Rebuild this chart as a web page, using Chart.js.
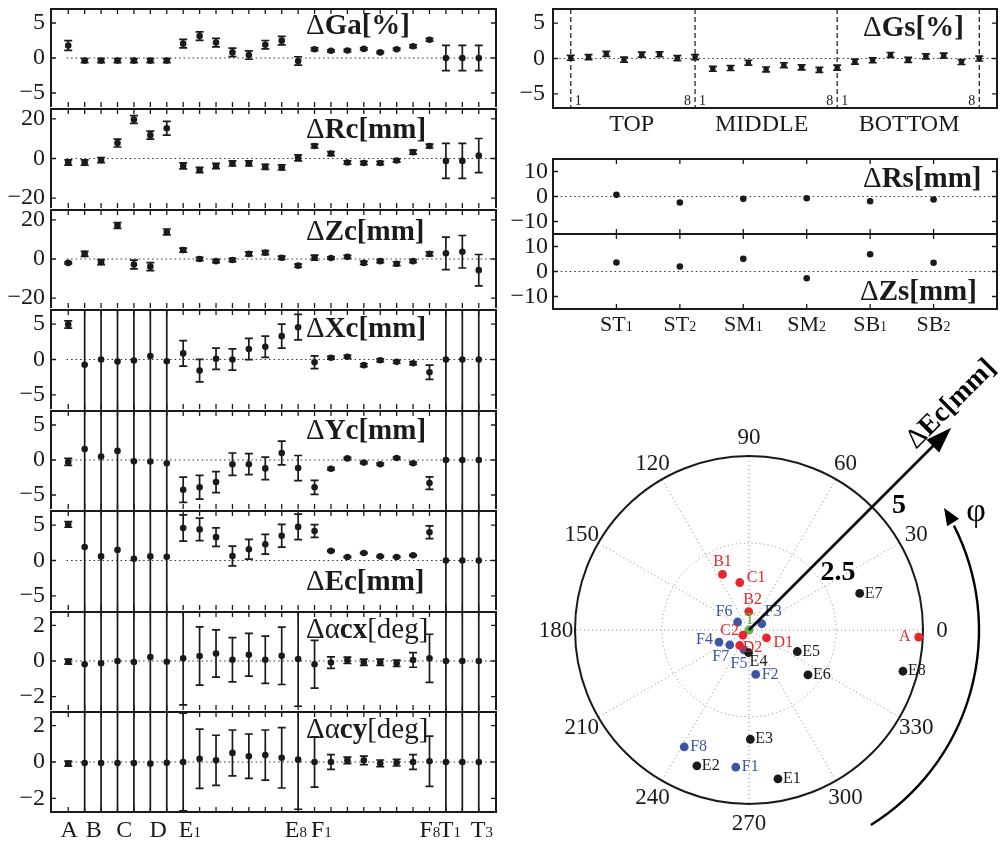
<!DOCTYPE html>
<html>
<head>
<meta charset="utf-8">
<script src="https://cdn.jsdelivr.net/npm/chart.js@4.4.0/dist/chart.umd.min.js"></script>
<style>
  html, body { margin: 0; padding: 0; background: #fff; }
  #wrap { position: relative; width: 1001px; height: 844px; overflow: hidden; background: #fff; }
  canvas { position: absolute; }
</style>
</head>
<body>
<div id="wrap"></div>
<script>
const SERIF = '"Liberation Serif", "Times New Roman", serif';
const INK = "#1a1a1a";

// ---- left column: 26 modules ----
const cats = ["A", "B1", "B2", "C1", "C2", "D1", "D2",
  "E1", "E2", "E3", "E4", "E5", "E6", "E7", "E8",
  "F1", "F2", "F3", "F4", "F5", "F6", "F7", "F8", "T1", "T2", "T3"];
const bottomLabels = ["A", "B", "C", "D", "E1", "E8", "F1", "F8", "T1", "T3"];
const bottomLabelPos = [1.06, 2.56, 4.41, 6.48, 8.41, 14.86, 16.42, 23.02, 24.24, 26.19];

const gaVals = [1.78, -0.37, -0.37, -0.37, -0.37, -0.37, -0.37, 2.05, 3.13, 2.2, 0.8, 0.42, 1.9, 2.48, -0.42, 1.26, 1.03, 1.07, 1.3, 0.8, 1.26, 1.68, 2.6, 0, 0, 0];
const gaErr = [0.7, 0.3, 0.3, 0.3, 0.3, 0.3, 0.3, 0.6, 0.6, 0.6, 0.6, 0.6, 0.6, 0.6, 0.6, 0.2, 0.15, 0.15, 0.15, 0.15, 0.15, 0.2, 0.2, 1.8, 1.8, 1.8];

const rcVals = [-2, -2, -0.8, 7.8, 19.7, 11.8, 15.3, -3.7, -5.8, -3.8, -2.5, -2.5, -4.2, -4.5, 0.3, 6.3, 2.5, -2, -2.3, -2.3, -1, 3.2, 6.3, -1.2, -1.2, 1.5];
const rcErr = [1.3, 1.3, 1.3, 2, 2, 2, 3.5, 1.5, 1.3, 1.3, 1.3, 1.3, 1.3, 1.3, 1.5, 1, 1, 0.8, 0.8, 0.8, 0.8, 1, 1, 8.8, 8.8, 8.6];

const zcVals = [-2, 2.6, -1.6, 17.1, -2.8, -3.9, 13.8, 4.55, 0, -1.1, -0.5, 2.6, 3.25, 0.65, -3.4, 0.65, 0.5, 1.1, -2, -1.1, -2.4, -1.1, 2.6, 2.9, 3.7, -5.7];
const zcErr = [0.5, 1.3, 1.3, 1.5, 2.2, 2, 1.5, 1, 0.8, 0.8, 0.8, 1, 1, 0.8, 0.8, 1.3, 0.6, 0.8, 0.8, 0.8, 1, 0.8, 1, 8.3, 8.3, 8];

const xcVals = [4.95, -0.75, 0, -0.3, -0.15, 0.5, -0.25, 0.86, -1.57, 0.1, 0, 1.48, 1.8, 3.3, 4.57, -0.38, 0.24, 0.38, -0.8, -0.1, -0.33, -0.52, -1.8, 0, 0, 0];
const xcErr = [0.5, 99, 99, 99, 99, 99, 99, 1.8, 1.6, 1.5, 1.5, 1.5, 1.5, 1.7, 1.8, 0.9, 0.2, 0.2, 0.2, 0.2, 0.2, 0.2, 1, 99, 99, 99];

const ycVals = [-0.28, 1.57, 0.5, 1.3, -0.19, -0.23, -0.46, -4.26, -3.9, -3.15, -0.6, -0.6, -1.2, 1.0, -1.16, -3.9, -1.25, 0.23, -0.37, -0.6, 0.28, -0.46, -3.3, 0, 0, 0];
const ycErr = [0.5, 99, 99, 99, 99, 99, 99, 1.8, 1.7, 1.5, 1.6, 1.5, 1.6, 1.7, 1.8, 1.0, 0.15, 0.15, 0.15, 0.15, 0.15, 0.15, 0.9, 99, 99, 99];

const ecVals = [5.1, 1.9, 0.58, 1.5, 0.24, 0.58, 0.53, 4.6, 4.4, 3.3, 0.63, 1.6, 2.3, 3.5, 4.75, 4.17, 1.36, 0.49, 1.07, 0.58, 0.49, 0.73, 4, 0, 0, 0];
const ecErr = [0.4, 99, 99, 99, 99, 99, 99, 1.85, 1.6, 1.3, 1.4, 1.4, 1.4, 1.6, 1.8, 0.9, 0.1, 0.1, 0.1, 0.1, 0.1, 0.1, 0.9, 99, 99, 99];

const axVals = [-0.04, -0.18, -0.13, 0, -0.06, 0.22, -0.04, 0.15, 0.28, 0.42, 0.07, 0.35, 0.07, 0.29, 0.11, -0.18, -0.09, 0.04, -0.07, -0.07, -0.13, 0.06, 0.15, 0, 0, 0];
const axErr = [0.14, 99, 99, 99, 99, 99, 99, 2.61, 1.63, 1.33, 1.24, 1.2, 1.33, 1.61, 2.65, 1.34, 0.32, 0.18, 0.18, 0.18, 0.18, 0.41, 1.35, 99, 99, 99];

const ayVals = [-0.09, -0.06, -0.06, -0.06, -0.06, -0.09, -0.04, 0, 0.18, 0.09, 0.5, 0.32, 0.38, 0.23, 0.13, 0, 0, 0.09, 0.09, -0.07, -0.04, 0, 0.04, 0, 0, 0];
const ayErr = [0.14, 99, 99, 99, 99, 99, 99, 2.69, 1.63, 1.38, 1.26, 1.22, 1.38, 1.66, 2.73, 1.38, 0.41, 0.18, 0.23, 0.18, 0.18, 0.41, 1.38, 99, 99, 99];

// ---- right column ----
const gsVals = [0.1, 0.2, 0.65, -0.15, 0.55, 0.6, 0.05, 0.2,
  -1.45, -1.35, -0.6, -1.55, -0.95, -1.25, -1.6, -1.3,
  -0.45, -0.25, 0.5, -0.2, 0.3, 0.4, -0.5, 0];
const gsErr = new Array(24).fill(0.35);
const gsGroups = ["TOP", "MIDDLE", "BOTTOM"];
const gsGroupPos = [4.43, 11.75, 20.05];
const gsDividers = [1, 8, 16, 24];

const sCats = ["ST1", "ST2", "SM1", "SM2", "SB1", "SB2"];
const rsVals = [0.67, -2.4, -0.93, -0.67, -1.87, -1.2];
const zsVals = [3.6, 2, 5.07, -2.67, 6.9, 3.5];

// ---- polar: eccentricity magnitude and direction ----
const polarNames = ["A", "B1", "B2", "C1", "C2", "D1", "D2",
  "E1", "E2", "E3", "E4", "E5", "E6", "E7", "E8",
  "F1", "F2", "F3", "F4", "F5", "F6", "F7", "F8", "T"];
const polarR = [4.88, 1.77, 0.53, 1.39, 0.23, 0.55, 0.52,
  4.36, 4.18, 3.14, 0.65, 1.52, 2.13, 3.35, 4.58,
  3.96, 1.29, 0.41, 0.93, 0.59, 0.4, 0.7, 3.84, 0];
const polarPhi = [357.6, 115.5, 91, 101, 221, 336, 239,
  281, 249, 270.7, 269, 336, 322.7, 18.3, 345,
  264.5, 278.6, 26, 202, 256, 145, 218, 241, 0];
const angleTicks = [0, 30, 60, 90, 120, 150, 180, 210, 240, 270, 300, 330];
const ringTicks = [2.5, 5];

const groupColors = { red: "#e8262a", black: "#1a1a1a", blue: "#3c55a5", green: "#5ab54b" };
function groupOf(name) {
  if (name[0] === "E") return "black";
  if (name[0] === "F") return "blue";
  if (name[0] === "T") return "green";
  return "red";
}
// label offsets next to each marker [dx, dy, align]
const labelPlace = {
  A: [-8, 0, "right"], B1: [0, -13, "center"], B2: [4, -12, "center"], C1: [7, -5, "left"],
  C2: [-4, -4, "right"], D1: [7, 5, "left"], D2: [3, 2, "left"], E4: [1, 9, "left"],
  F3: [3, -12, "left"], F4: [-6, -2, "right"], F5: [-5, 14, "center"], F6: [-5, -10, "right"],
  F7: [-9, 12, "center"], T: [1, -10, "center"]
};

const wrap = document.getElementById("wrap");
function addCanvas(left, top, w, h) {
  const c = document.createElement("canvas");
  c.width = w; c.height = h;
  c.style.left = left + "px"; c.style.top = top + "px";
  c.style.width = w + "px"; c.style.height = h + "px";
  wrap.appendChild(c);
  return c;
}

function fmtTick(v) {
  return v < 0 ? "\u2212" + Math.abs(v) : String(v);
}

function richText(ctx, x, y, segs, align) {
  const widths = segs.map((s) => {
    ctx.font = (s.b ? "bold " : "") + s.s + "px " + SERIF;
    return ctx.measureText(s.t).width;
  });
  const total = widths.reduce((a, b) => a + b, 0);
  let cx = align === "center" ? x - total / 2 : align === "right" ? x - total : x;
  ctx.textAlign = "left";
  ctx.textBaseline = "alphabetic";
  segs.forEach((s, i) => {
    ctx.font = (s.b ? "bold " : "") + s.s + "px " + SERIF;
    ctx.fillText(s.t, cx, y + (s.dy || 0));
    cx += widths[i];
  });
}

function subLabel(text, big, small) {
  const m = text.match(/^([A-Z]+)(\d*)$/);
  const segs = [{ t: m[1], s: big }];
  if (m[2]) segs.push({ t: m[2], s: small });
  return segs;
}

const errorBars = {
  id: "errorBars",
  beforeDatasetsDraw(chart, args, opts) {
    if (!opts.errs) return;
    const { ctx, chartArea: a, scales: { y } } = chart;
    const meta = chart.getDatasetMeta(0);
    const pts = chart.data.datasets[0].data;
    ctx.save();
    ctx.beginPath();
    ctx.rect(a.left, a.top - 1, a.right - a.left, a.bottom - a.top + 2);
    ctx.clip();
    ctx.strokeStyle = INK;
    ctx.lineWidth = 1.7;
    meta.data.forEach((el, i) => {
      const e = opts.errs[i];
      const v = pts[i].y;
      const y1 = y.getPixelForValue(v + e);
      const y2 = y.getPixelForValue(v - e);
      ctx.beginPath();
      ctx.moveTo(el.x, y1); ctx.lineTo(el.x, y2);
      ctx.moveTo(el.x - 4, y1); ctx.lineTo(el.x + 4, y1);
      ctx.moveTo(el.x - 4, y2); ctx.lineTo(el.x + 4, y2);
      ctx.stroke();
    });
    ctx.restore();
  }
};

const frameDecor = {
  id: "frameDecor",
  afterDatasetsDraw(chart, args, opts) {
    const { ctx, chartArea: a, scales } = chart;
    const xs = scales.x, ys = scales.y;
    ctx.save();
    ctx.strokeStyle = INK;
    ctx.lineWidth = 1.3;
    ctx.beginPath();
    (opts.xTicks || []).forEach((v) => {
      const px = xs.getPixelForValue(v);
      ctx.moveTo(px, a.top); ctx.lineTo(px, a.top + 5);
      ctx.moveTo(px, a.bottom); ctx.lineTo(px, a.bottom - 5);
    });
    (opts.yTicks || []).forEach((v) => {
      const py = ys.getPixelForValue(v);
      ctx.moveTo(a.left, py); ctx.lineTo(a.left + 5, py);
      ctx.moveTo(a.right, py); ctx.lineTo(a.right - 5, py);
    });
    ctx.stroke();
    if (opts.dashed) {
      ctx.setLineDash([5, 3]);
      ctx.lineWidth = 1.2;
      ctx.beginPath();
      opts.dashed.forEach((v) => {
        const px = xs.getPixelForValue(v);
        ctx.moveTo(px, a.top); ctx.lineTo(px, a.bottom);
      });
      ctx.stroke();
      ctx.setLineDash([]);
    }
    // frame; the shared bottom edge is left to the panel below
    ctx.lineWidth = 2;
    ctx.beginPath();
    const t = Math.round(a.top), b = Math.round(a.bottom);
    const l = Math.round(a.left), r = Math.round(a.right);
    if (opts.openBottom) {
      ctx.moveTo(l, b); ctx.lineTo(l, t); ctx.lineTo(r, t); ctx.lineTo(r, b);
    } else {
      ctx.rect(l, t, r - l, b - t);
    }
    ctx.stroke();
    ctx.fillStyle = INK;
    (opts.texts || []).forEach((tx) => {
      const x = (tx.xv !== undefined ? xs.getPixelForValue(tx.xv) : tx.ax - opts.ox) + (tx.dx || 0);
      richText(ctx, x, tx.ay - opts.oy, tx.segs, tx.align || "left");
    });
    ctx.restore();
  }
};

function makePanel(o) {
  const canvas = addCanvas(o.left, o.top, o.w, o.h);
  const pts = o.vals.map((v, i) => ({ x: i + 1, y: v }));
  const datasets = [{
    data: pts, pointRadius: o.pr, pointBackgroundColor: INK, pointBorderWidth: 0,
    showLine: false, order: 1, clip: false
  }];
  if (o.zero) {
    datasets.push({
      type: "line", data: [{ x: o.zero[0], y: 0 }, { x: o.zero[1], y: 0 }],
      borderColor: "#333", borderWidth: 1.2, borderDash: [1.5, 3], pointRadius: 0, order: 2
    });
  }
  return new Chart(canvas, {
    type: "scatter",
    data: { datasets },
    options: {
      responsive: false, animation: false, devicePixelRatio: 1,
      layout: { padding: o.pad },
      plugins: {
        legend: { display: false }, tooltip: { enabled: false },
        errorBars: { errs: o.errs },
        frameDecor: {
          xTicks: o.xTicks, yTicks: o.yTicks, dashed: o.dashed, openBottom: o.openBottom,
          texts: o.texts, ox: o.left, oy: o.top
        }
      },
      scales: {
        x: { type: "linear", min: o.xMin, max: o.xMax, display: false },
        y: {
          type: "linear", min: o.yMin, max: o.yMax,
          afterFit: (s) => { s.width = o.axisW; s.paddingTop = 0; s.paddingBottom = 0; },
          afterBuildTicks: (s) => { s.ticks = o.yTicks.map((v) => ({ value: v })); },
          grid: { display: false, drawTicks: false },
          border: { display: false },
          ticks: {
            color: INK, padding: o.tickPad, autoSkip: false, font: { family: SERIF, size: 24 },
            callback: (v) => fmtTick(v)
          }
        }
      }
    },
    plugins: [errorBars, frameDecor]
  });
}

// ---- left stacked panels ----
const leftTops = [8, 108, 209, 309, 410, 510, 611, 711, 812];
const leftPanels = [
  { vals: gaVals, errs: gaErr, r: 7, ticks: [-5, 0, 5], title: [["\u0394", 0], ["Ga[%]", 1]], ty: 34 },
  { vals: rcVals, errs: rcErr, r: 25, ticks: [-20, 0, 20], title: [["\u0394", 0], ["Rc[mm]", 1]], ty: 138 },
  { vals: zcVals, errs: zcErr, r: 25, ticks: [-20, 0, 20], title: [["\u0394", 0], ["Zc[mm]", 1]], ty: 240 },
  { vals: xcVals, errs: xcErr, r: 7, ticks: [-5, 0, 5], title: [["\u0394", 0], ["Xc[mm]", 1]], ty: 337 },
  { vals: ycVals, errs: ycErr, r: 7, ticks: [-5, 0, 5], title: [["\u0394", 0], ["Yc[mm]", 1]], ty: 439 },
  { vals: ecVals, errs: ecErr, r: 7, ticks: [-5, 0, 5], title: [["\u0394", 0], ["Ec[mm]", 1]], ty: 590 },
  { vals: axVals, errs: axErr, r: 2.75, ticks: [-2, 0, 2], title: [["\u0394\u03b1", 0], ["cx", 1], ["[deg]", 0]], ty: 638 },
  { vals: ayVals, errs: ayErr, r: 2.75, ticks: [-2, 0, 2], title: [["\u0394\u03b1", 0], ["cy", 1], ["[deg]", 0]], ty: 738 }
];

leftPanels.forEach((p, i) => {
  const top = leftTops[i], bottom = leftTops[i + 1];
  const isLast = i === leftPanels.length - 1;
  const cTop = top - 3;
  const cH = isLast ? 844 - cTop : bottom - top + 6;
  const texts = [{ ax: 306, ay: p.ty, segs: p.title.map(([t, b]) => ({ t, b, s: 29 })) }];
  if (isLast) {
    bottomLabels.forEach((lab, k) => {
      texts.push({ xv: bottomLabelPos[k], ay: 837, segs: subLabel(lab, 24, 15), align: "center" });
    });
  }
  makePanel({
    left: 0, top: cTop, w: 500, h: cH,
    pad: { left: 0, right: 4, top: 3, bottom: cH - (bottom - cTop) },
    axisW: 51, tickPad: 6, pr: 3.3,
    vals: p.vals, errs: p.errs, zero: [0.9, 26.85],
    xMin: -0.05, xMax: 27.05, yMin: -p.r, yMax: p.r, yTicks: p.ticks,
    xTicks: cats.map((c, k) => k + 1),
    openBottom: !isLast,
    texts
  });
});

// ---- right: gap panel ----
{
  const texts = [{ ax: 863, ay: 36, segs: [{ t: "\u0394", s: 29 }, { t: "Gs[%]", b: 1, s: 29 }] }];
  gsGroups.forEach((g, k) => texts.push({ xv: gsGroupPos[k], ay: 131, segs: [{ t: g, s: 24 }], align: "center" }));
  gsDividers.slice(0, 3).forEach((v) => texts.push({ xv: v, dx: 4, ay: 105, segs: [{ t: "1", s: 14 }] }));
  gsDividers.slice(1).forEach((v) => texts.push({ xv: v, dx: -4, ay: 105, segs: [{ t: "8", s: 14 }], align: "right" }));
  makePanel({
    left: 500, top: 5, w: 501, h: 135,
    pad: { left: 0, right: 4, top: 3, bottom: 32 },
    axisW: 53, tickPad: 8, pr: 2.8,
    vals: gsVals, errs: gsErr, zero: [0.1, 24.9],
    xMin: 0, xMax: 25, yMin: -7, yMax: 7, yTicks: [-5, 0, 5],
    xTicks: [], dashed: gsDividers, texts
  });
}

// ---- right: Rs / Zs panels ----
makePanel({
  left: 500, top: 150, w: 501, h: 90,
  pad: { left: 0, right: 4, top: 9, bottom: 6 },
  axisW: 53, tickPad: 5, pr: 3.3,
  vals: rsVals, errs: null, zero: [0.05, 6.95],
  xMin: 0, xMax: 7, yMin: -15, yMax: 15, yTicks: [-10, 0, 10],
  xTicks: sCats.map((c, k) => k + 1), openBottom: true,
  texts: [{ ax: 863, ay: 187, segs: [{ t: "\u0394", s: 29 }, { t: "Rs[mm]", b: 1, s: 29 }] }]
});
{
  const texts = [{ ax: 860, ay: 300, segs: [{ t: "\u0394", s: 29 }, { t: "Zs[mm]", b: 1, s: 29 }] }];
  sCats.forEach((c, k) => texts.push({ xv: k + 1, ay: 331, segs: subLabel(c, 22, 14), align: "center" }));
  makePanel({
    left: 500, top: 228, w: 501, h: 117,
    pad: { left: 0, right: 4, top: 6, bottom: 36 },
    axisW: 53, tickPad: 5, pr: 3.3,
    vals: zsVals, errs: null, zero: [0.05, 6.95],
    xMin: 0, xMax: 7, yMin: -15, yMax: 15, yTicks: [-10, 0, 10],
    xTicks: sCats.map((c, k) => k + 1),
    texts
  });
}

// ---- polar plot of eccentricity ----
const polarDecor = {
  id: "polarDecor",
  beforeDatasetsDraw(chart) {
    const { ctx, scales: { x, y } } = chart;
    const cx = x.getPixelForValue(0), cy = y.getPixelForValue(0);
    const unit = x.getPixelForValue(1) - cx;
    const rMax = ringTicks[ringTicks.length - 1];
    const R = rMax * unit;
    ctx.save();
    ctx.strokeStyle = "#8a8a8a";
    ctx.lineWidth = 1;
    ctx.setLineDash([1, 3]);
    angleTicks.forEach((a) => {
      const t = a * Math.PI / 180;
      ctx.beginPath();
      ctx.moveTo(cx, cy);
      ctx.lineTo(cx + R * Math.cos(t), cy - R * Math.sin(t));
      ctx.stroke();
    });
    ringTicks.filter((r) => r < rMax).forEach((r) => {
      ctx.beginPath();
      ctx.arc(cx, cy, r * unit, 0, Math.PI * 2);
      ctx.stroke();
    });
    ctx.setLineDash([]);
    ctx.strokeStyle = INK;
    ctx.lineWidth = 2;
    ctx.beginPath();
    ctx.arc(cx, cy, R, 0, Math.PI * 2);
    ctx.stroke();
    ctx.fillStyle = INK;
    ctx.font = "23px " + SERIF;
    ctx.textAlign = "center";
    ctx.textBaseline = "middle";
    angleTicks.forEach((a) => {
      const t = a * Math.PI / 180;
      const rl = R + 19;
      ctx.fillText(String(a), cx + rl * Math.cos(t), cy - rl * Math.sin(t) + 1);
    });
    ctx.restore();
  },
  afterDatasetsDraw(chart) {
    const { ctx, scales: { x, y } } = chart;
    const cx = x.getPixelForValue(0), cy = y.getPixelForValue(0);
    ctx.save();
    // point labels
    ctx.font = "16px " + SERIF;
    ctx.textBaseline = "middle";
    polarNames.forEach((name, i) => {
      const t = polarPhi[i] * Math.PI / 180;
      const px = x.getPixelForValue(polarR[i] * Math.cos(t));
      const py = y.getPixelForValue(polarR[i] * Math.sin(t));
      const place = labelPlace[name] || (name[0] === "F" ? [6, 0, "left"] : [5, 0, "left"]);
      ctx.fillStyle = groupColors[groupOf(name)];
      ctx.textAlign = place[2];
      ctx.fillText(name, px + place[0], py + place[1]);
    });
    // magnitude arrow
    ctx.strokeStyle = "#000";
    ctx.fillStyle = "#000";
    ctx.lineWidth = 2.6;
    const L = 286, d = Math.SQRT1_2;
    const tipX = cx + L * d, tipY = cy - L * d;
    ctx.beginPath();
    ctx.moveTo(cx, cy);
    ctx.lineTo(tipX - 18 * d, tipY + 18 * d);
    ctx.stroke();
    ctx.beginPath();
    ctx.moveTo(tipX, tipY);
    ctx.lineTo(tipX - 26 * d - 9 * d, tipY + 26 * d - 9 * d);
    ctx.lineTo(tipX - 26 * d + 9 * d, tipY + 26 * d + 9 * d);
    ctx.closePath();
    ctx.fill();
    // rotated axis name
    ctx.save();
    ctx.translate(cx + 201, cy - 227);
    ctx.rotate(-Math.PI / 4);
    richText(ctx, 0, 9, [{ t: "\u0394", s: 28 }, { t: "Ec[mm]", b: 1, s: 28 }], "center");
    ctx.restore();
    // ring values
    ctx.textAlign = "center";
    ctx.textBaseline = "middle";
    ctx.font = "bold 28px " + SERIF;
    ctx.fillText("5", cx + 150, cy - 124);
    ctx.fillText("2.5", cx + 89, cy - 57);
    // phi arc
    const Rp = 230;
    ctx.lineWidth = 2.4;
    ctx.beginPath();
    ctx.arc(cx, cy, Rp, 58 * Math.PI / 180, -27 * Math.PI / 180, true);
    ctx.stroke();
    const ta = 32 * Math.PI / 180;
    const ax = cx + Rp * Math.cos(ta), ay = cy - Rp * Math.sin(ta);
    const dx = -Math.sin(ta), dy = -Math.cos(ta);
    ctx.beginPath();
    ctx.moveTo(ax, ay);
    ctx.lineTo(ax - dx * 17 - dy * 7, ay - dy * 17 + dx * 7);
    ctx.lineTo(ax - dx * 17 + dy * 7, ay - dy * 17 - dx * 7);
    ctx.closePath();
    ctx.fill();
    ctx.font = "34px " + SERIF;
    ctx.fillText("\u03c6", cx + 227, cy - 118);
    ctx.restore();
  }
};

{
  const canvas = addCanvas(520, 340, 481, 504);
  const groups = ["red", "black", "blue", "green"];
  const datasets = groups.map((g) => ({
    data: polarNames
      .map((n, i) => ({ n, i }))
      .filter((o) => groupOf(o.n) === g)
      .map(({ i }) => {
        const t = polarPhi[i] * Math.PI / 180;
        return { x: polarR[i] * Math.cos(t), y: polarR[i] * Math.sin(t) };
      }),
    pointRadius: 4.4, pointBackgroundColor: groupColors[g], pointBorderWidth: 0,
    clip: false
  }));
  new Chart(canvas, {
    type: "scatter",
    data: { datasets },
    options: {
      responsive: false, animation: false, devicePixelRatio: 1,
      layout: { padding: { left: 55, right: 78, top: 116, bottom: 40 } },
      plugins: { legend: { display: false }, tooltip: { enabled: false } },
      scales: {
        x: { type: "linear", min: -5, max: 5, display: false },
        y: { type: "linear", min: -5, max: 5, display: false }
      }
    },
    plugins: [polarDecor]
  });
}
</script>
</body>
</html>
